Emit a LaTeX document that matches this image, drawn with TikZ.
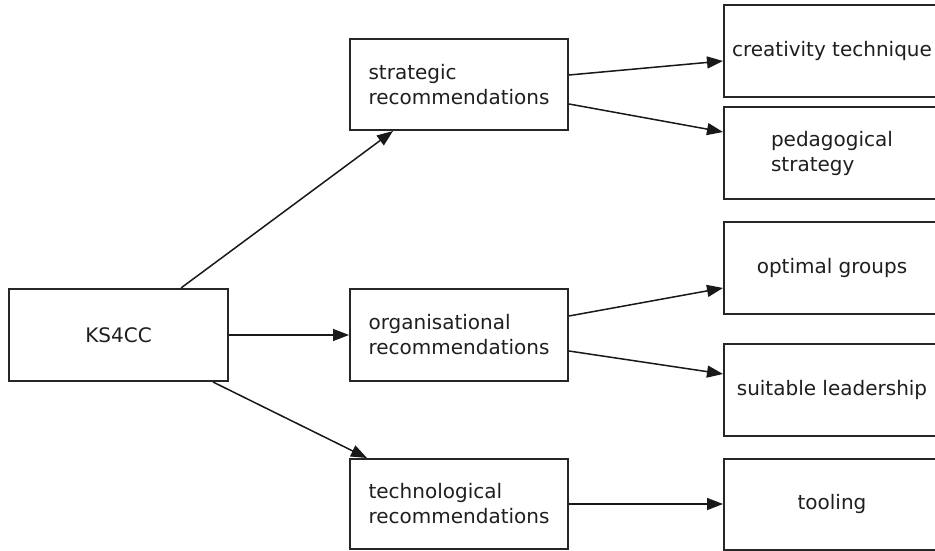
\documentclass[tikz,border=0pt]{standalone}
\usepackage{fontspec}
\setmainfont{DejaVu Sans}
\usetikzlibrary{arrows.meta}
\tikzset{
  box/.style={draw=black!85, line width=2pt, inner sep=0pt, align=left,
    font=\fontsize{20}{25}\selectfont, text=black!88},
  midbox/.style={box, minimum width=218pt, minimum height=91pt},
  rbox/.style={box, minimum width=216pt, minimum height=92pt},
  link/.style={draw=black!90, line width=1.5pt, -{Triangle[length=16pt,width=12pt]}}
}
\begin{document}
\begin{tikzpicture}[x=1pt,y=-1pt]
\useasboundingbox (0,0) rectangle (935,551);
\clip (0,0) rectangle (935,551);
\fill[white] (0,0) rectangle (935,551);
\node[box, minimum width=219pt, minimum height=92pt] (ks) at (118.5,335) {KS4CC};
\node[midbox] (strat) at (459,84.5) {strategic\\recommendations};
\node[midbox, minimum height=92pt] (org) at (459,335) {organisational\\recommendations};
\node[midbox, minimum height=90pt] (tech) at (459,504) {technological\\recommendations};
\node[rbox] (creat) at (832,51) {creativity technique};
\node[rbox] (ped) at (832,153) {pedagogical\\strategy};
\node[rbox] (opt) at (832,268) {optimal groups};
\node[rbox] (suit) at (832,390) {suitable leadership};
\node[rbox, minimum height=91pt] (tool) at (832,504) {tooling};
\draw[link] ([xshift=62.5pt]ks.north) -- ([xshift=-66pt]strat.south);
\draw[link] (ks.east) -- (org.west);
\draw[link] ([xshift=94.5pt]ks.south) -- ([xshift=-92pt]tech.north);
\draw[link] ([yshift=9.5pt]strat.east) -- ([yshift=-10pt]creat.west);
\draw[link] ([yshift=-19.5pt]strat.east) -- ([yshift=21pt]ped.west);
\draw[link] ([yshift=19pt]org.east) -- ([yshift=-20pt]opt.west);
\draw[link] ([yshift=-16pt]org.east) -- ([yshift=16pt]suit.west);
\draw[link] (tech.east) -- (tool.west);
\end{tikzpicture}
\end{document}
